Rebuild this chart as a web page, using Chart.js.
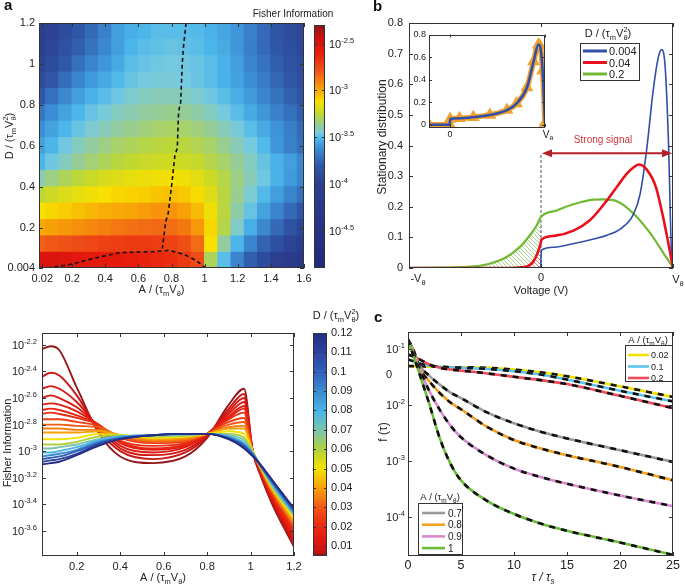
<!DOCTYPE html>
<html>
<head>
<meta charset="utf-8">
<script src="https://cdn.jsdelivr.net/npm/chart.js@4.4.1/dist/chart.umd.min.js"></script>
<style>
  body { margin: 0; width: 685px; height: 585px; background: #fff; position: relative; overflow: hidden;
         font-family: "Liberation Sans", Arial, sans-serif; }
  canvas { position: absolute; }
  .tag { position: absolute; font-weight: bold; font-size: 15px; line-height: 16px; color: #111; }
</style>
</head>
<body>
<canvas id="ca" width="320" height="300" style="left:0;top:0"></canvas>
<canvas id="cbA" width="120" height="290" style="left:240px;top:0"></canvas>
<canvas id="cb" width="345" height="300" style="left:340px;top:0"></canvas>
<canvas id="cin" width="150" height="115" style="left:405px;top:25px"></canvas>
<canvas id="cl" width="305" height="290" style="left:0;top:295px"></canvas>
<canvas id="cbD" width="75" height="270" style="left:300px;top:300px"></canvas>
<canvas id="cc" width="340" height="285" style="left:345px;top:300px"></canvas>
<div class="tag" style="left:4px;top:-3px">a</div>
<div class="tag" style="left:373px;top:-2px">b</div>
<div class="tag" style="left:374px;top:309px">c</div>
<script>
"use strict";

// ---- panel a: log10(Fisher information) read on a 0.08 x 0.08 grid (rows from D = 0.04 upward)
const aCols = [0, 0.08, 0.16, 0.24, 0.32, 0.40, 0.48, 0.56, 0.64, 0.72, 0.80, 0.88, 0.96, 1.04, 1.12, 1.20, 1.28, 1.36, 1.44, 1.52, 1.60];
const dRows = [0.04, 0.12, 0.20, 0.28, 0.36, 0.44, 0.52, 0.60, 0.68, 0.76, 0.84, 0.92, 1.00, 1.08, 1.16];
const fiGrid = [
  [-2.5, -2.5, -2.52, -2.55, -2.57, -2.58, -2.58, -2.6, -2.62, -2.64, -2.66, -2.7, -2.76, -3.3, -3.5, -3.65, -3.78, -3.9, -4.05, -4.2, -4.35],
  [-2.82, -2.8, -2.78, -2.76, -2.74, -2.72, -2.71, -2.7, -2.7, -2.71, -2.73, -2.77, -2.85, -3.12, -3.38, -3.52, -3.65, -3.76, -3.87, -3.97, -4.07],
  [-3.0, -2.98, -2.96, -2.94, -2.92, -2.9, -2.88, -2.86, -2.85, -2.84, -2.85, -2.88, -2.96, -3.1, -3.28, -3.43, -3.54, -3.64, -3.74, -3.84, -3.94],
  [-3.12, -3.1, -3.08, -3.05, -3.03, -3.01, -3.0, -2.99, -2.97, -2.95, -2.95, -2.98, -3.04, -3.14, -3.27, -3.39, -3.48, -3.57, -3.65, -3.74, -3.82],
  [-3.26, -3.22, -3.19, -3.16, -3.14, -3.12, -3.1, -3.09, -3.08, -3.06, -3.05, -3.07, -3.11, -3.18, -3.27, -3.36, -3.44, -3.51, -3.58, -3.65, -3.72],
  [-3.4, -3.35, -3.3, -3.26, -3.23, -3.2, -3.18, -3.16, -3.15, -3.14, -3.13, -3.14, -3.17, -3.22, -3.28, -3.35, -3.41, -3.47, -3.53, -3.59, -3.65],
  [-3.52, -3.47, -3.42, -3.37, -3.33, -3.3, -3.27, -3.25, -3.23, -3.22, -3.21, -3.22, -3.24, -3.28, -3.32, -3.37, -3.42, -3.48, -3.53, -3.58, -3.64],
  [-3.57, -3.52, -3.47, -3.42, -3.38, -3.35, -3.32, -3.3, -3.28, -3.27, -3.26, -3.27, -3.29, -3.32, -3.36, -3.41, -3.46, -3.51, -3.6, -3.66, -3.72],
  [-3.62, -3.57, -3.52, -3.48, -3.44, -3.41, -3.38, -3.36, -3.34, -3.32, -3.31, -3.32, -3.34, -3.37, -3.41, -3.45, -3.5, -3.55, -3.61, -3.67, -3.74],
  [-3.7, -3.62, -3.57, -3.52, -3.48, -3.45, -3.42, -3.4, -3.38, -3.37, -3.36, -3.37, -3.39, -3.42, -3.46, -3.5, -3.55, -3.6, -3.66, -3.72, -3.78],
  [-3.8, -3.72, -3.64, -3.58, -3.53, -3.5, -3.47, -3.44, -3.42, -3.41, -3.41, -3.42, -3.44, -3.47, -3.5, -3.54, -3.59, -3.65, -3.71, -3.77, -3.83],
  [-3.9, -3.82, -3.73, -3.65, -3.59, -3.55, -3.51, -3.48, -3.46, -3.45, -3.45, -3.46, -3.48, -3.5, -3.53, -3.57, -3.62, -3.68, -3.75, -3.81, -3.87],
  [-3.97, -3.9, -3.8, -3.72, -3.65, -3.6, -3.55, -3.5, -3.48, -3.47, -3.46, -3.47, -3.48, -3.5, -3.53, -3.58, -3.65, -3.71, -3.78, -3.85, -3.9],
  [-4.02, -3.95, -3.86, -3.78, -3.71, -3.64, -3.58, -3.52, -3.5, -3.49, -3.48, -3.49, -3.5, -3.52, -3.55, -3.6, -3.67, -3.74, -3.81, -3.88, -3.93],
  [-4.05, -3.98, -3.9, -3.82, -3.74, -3.66, -3.58, -3.54, -3.52, -3.5, -3.5, -3.5, -3.51, -3.53, -3.56, -3.6, -3.66, -3.74, -3.83, -3.9, -3.95]
];
const ridgeA = [0.888, 0.873, 0.865, 0.855, 0.843, 0.835, 0.82, 0.80, 0.78, 0.765, 0.745];
const ridgeD = [1.2, 1.09, 1.0, 0.81, 0.77, 0.59, 0.55, 0.40, 0.27, 0.23, 0.10];
const edgeA = [0.05, 0.18, 0.30, 0.39, 0.49, 0.69, 0.785, 0.878, 0.95, 1.0];
const edgeD = [0.004, 0.02, 0.045, 0.062, 0.079, 0.084, 0.09, 0.07, 0.04, 0.008];
const aTicksX = [0.02, 0.2, 0.4, 0.6, 0.8, 1, 1.2, 1.4, 1.6];
const aTicksY = [0.004, 0.2, 0.4, 0.6, 0.8, 1, 1.2];
const fiTicks = [-2.5, -3, -3.5, -4, -4.5];

// ---- panel b: stationary distributions (voltage in units of V_theta)
const bD = ['0.004', '0.04', '0.2'];
const bColors = ['#3050a8', '#e8101c', '#72b832'];
const blueV = [-1, -0.05, -0.002, 0.002, 0.1, 0.25, 0.4, 0.5, 0.6, 0.7, 0.75, 0.8, 0.85, 0.89, 0.915, 0.94, 0.965, 0.99, 1];
const blueP = [0, 0, 0.003, 0.058, 0.068, 0.08, 0.095, 0.107, 0.127, 0.175, 0.24, 0.385, 0.58, 0.69, 0.713, 0.66, 0.42, 0.03, 0];
const redV = [-1, -0.25, -0.15, -0.1, -0.06, -0.03, -0.003, 0.003, 0.1, 0.25, 0.37, 0.5, 0.58, 0.65, 0.7, 0.74, 0.8, 0.87, 0.93, 0.97, 1];
const redP = [0, 0, 0.002, 0.006, 0.02, 0.045, 0.08, 0.092, 0.105, 0.123, 0.156, 0.221, 0.268, 0.308, 0.328, 0.338, 0.322, 0.265, 0.156, 0.069, 0];
const greenV = [-1, -0.77, -0.51, -0.39, -0.26, -0.16, -0.084, -0.033, 0, 0.12, 0.245, 0.4, 0.47, 0.575, 0.7, 0.83, 0.93, 1];
const greenP = [0, 0.001, 0.005, 0.014, 0.036, 0.069, 0.107, 0.139, 0.167, 0.188, 0.208, 0.223, 0.224, 0.218, 0.178, 0.112, 0.047, 0.003];
const insetV = [-0.22, -0.003, 0.003, 0.1, 0.246, 0.42, 0.6, 0.7, 0.81, 0.88, 0.93, 0.947, 0.975, 1.0];
const insetP = [0, 0, 0.05, 0.058, 0.067, 0.087, 0.13, 0.188, 0.33, 0.56, 0.71, 0.70, 0.48, 0.015];
const ARROW_Y = 0.375;

// ---- bottom-left: log10(Fisher information) vs A for several D
const flA = [0.04, 0.08, 0.12, 0.2, 0.3, 0.4, 0.55, 0.7, 0.8, 0.9, 0.97, 1.01, 1.05, 1.1, 1.2];
const flD = [0.005, 0.0075, 0.01, 0.0125, 0.015, 0.0175, 0.02, 0.025, 0.03, 0.035, 0.04, 0.05, 0.06, 0.07, 0.08, 0.09, 0.1, 0.11, 0.12];
const flLog = [
  [-2.23, -2.21, -2.24, -2.52, -2.86, -3.04, -3.09, -3.04, -2.9, -2.65, -2.53, -3.0, -3.2, -3.4, -3.72],
  [-2.44, -2.41, -2.43, -2.58, -2.84, -3.0, -3.06, -3.01, -2.89, -2.68, -2.57, -3.0, -3.19, -3.38, -3.7],
  [-2.53, -2.51, -2.53, -2.63, -2.82, -2.98, -3.03, -2.99, -2.88, -2.7, -2.6, -3.0, -3.18, -3.37, -3.68],
  [-2.6, -2.58, -2.6, -2.67, -2.81, -2.96, -3.01, -2.97, -2.87, -2.72, -2.63, -3.0, -3.17, -3.36, -3.66],
  [-2.65, -2.64, -2.65, -2.7, -2.8, -2.94, -2.99, -2.96, -2.87, -2.74, -2.66, -3.0, -3.17, -3.35, -3.64],
  [-2.69, -2.68, -2.69, -2.73, -2.8, -2.93, -2.98, -2.95, -2.87, -2.75, -2.68, -3.0, -3.16, -3.34, -3.62],
  [-2.72, -2.71, -2.72, -2.75, -2.8, -2.92, -2.96, -2.94, -2.87, -2.76, -2.71, -3.0, -3.16, -3.33, -3.6],
  [-2.76, -2.76, -2.76, -2.78, -2.81, -2.9, -2.94, -2.93, -2.87, -2.78, -2.75, -3.0, -3.15, -3.32, -3.58],
  [-2.8, -2.8, -2.8, -2.81, -2.82, -2.89, -2.93, -2.92, -2.87, -2.8, -2.78, -3.0, -3.15, -3.31, -3.56],
  [-2.83, -2.83, -2.83, -2.84, -2.84, -2.88, -2.92, -2.91, -2.87, -2.82, -2.81, -3.0, -3.14, -3.3, -3.55],
  [-2.86, -2.86, -2.86, -2.86, -2.85, -2.88, -2.91, -2.9, -2.87, -2.83, -2.83, -3.0, -3.14, -3.29, -3.53],
  [-2.91, -2.91, -2.91, -2.9, -2.87, -2.88, -2.9, -2.89, -2.87, -2.85, -2.87, -3.0, -3.13, -3.28, -3.51],
  [-2.95, -2.95, -2.95, -2.93, -2.89, -2.88, -2.89, -2.88, -2.87, -2.87, -2.9, -3.01, -3.13, -3.27, -3.49],
  [-2.98, -2.98, -2.97, -2.95, -2.91, -2.89, -2.88, -2.88, -2.87, -2.88, -2.92, -3.01, -3.12, -3.26, -3.48],
  [-3.01, -3.01, -3.0, -2.97, -2.92, -2.89, -2.88, -2.87, -2.87, -2.89, -2.94, -3.02, -3.12, -3.25, -3.47],
  [-3.04, -3.03, -3.02, -2.99, -2.93, -2.9, -2.88, -2.87, -2.87, -2.9, -2.95, -3.02, -3.12, -3.24, -3.46],
  [-3.06, -3.05, -3.04, -3.0, -2.94, -2.9, -2.88, -2.87, -2.87, -2.9, -2.96, -3.03, -3.12, -3.23, -3.45],
  [-3.08, -3.07, -3.06, -3.02, -2.95, -2.91, -2.88, -2.87, -2.87, -2.91, -2.97, -3.03, -3.11, -3.22, -3.44],
  [-3.1, -3.09, -3.08, -3.03, -2.96, -2.91, -2.88, -2.87, -2.87, -2.91, -2.98, -3.04, -3.11, -3.22, -3.43]
];
const flTicksX = [0.2, 0.4, 0.6, 0.8, 1, 1.2];
const flExp = [-2.2, -2.4, -2.6, -2.8, -3, -3.2, -3.4, -3.6];
const dTicks = [0.01, 0.02, 0.03, 0.04, 0.05, 0.06, 0.07, 0.08, 0.09, 0.1, 0.11, 0.12];

// ---- panel c: log10 f(tau)
const cTau = [0, 0.5, 1, 2, 3, 4, 5, 7.5, 10, 12.5, 15, 20, 25];
const cA = ['0.02', '0.1', '0.2', '0.7', '0.8', '0.9', '1'];
const cColors = ['#f2e200', '#5cc4ec', '#f04a5a', '#9a9a9a', '#f4a020', '#d88ad0', '#6cbc3c'];
const cLog = [
  [-1.31, -1.31, -1.31, -1.32, -1.32, -1.33, -1.33, -1.34, -1.37, -1.42, -1.49, -1.67, -1.86],
  [-1.19, -1.22, -1.26, -1.3, -1.32, -1.33, -1.34, -1.36, -1.4, -1.46, -1.55, -1.75, -1.94],
  [-1.1, -1.14, -1.18, -1.28, -1.34, -1.37, -1.39, -1.44, -1.5, -1.56, -1.63, -1.84, -2.06],
  [-0.83, -1.01, -1.27, -1.48, -1.64, -1.78, -1.88, -2.14, -2.33, -2.48, -2.6, -2.81, -3.02],
  [-0.86, -1.06, -1.32, -1.58, -1.79, -1.96, -2.08, -2.4, -2.63, -2.78, -2.9, -3.11, -3.35],
  [-0.86, -1.1, -1.33, -1.75, -2.09, -2.37, -2.58, -2.91, -3.14, -3.29, -3.41, -3.62, -3.81],
  [-0.83, -1.12, -1.4, -1.98, -2.6, -3.05, -3.35, -3.72, -3.95, -4.12, -4.25, -4.46, -4.68]
];
const cTicksX = [0, 5, 10, 15, 20, 25];
const cExp = [-1, -2, -3, -4];

// ---- colour maps
const fiStops = [[-4.9, '#24287a'], [-4.0, '#2c4090'], [-3.8, '#3058a8'], [-3.62, '#3c8ed4'], [-3.52, '#4cb6ea'],
  [-3.46, '#76cae0'], [-3.38, '#92cca0'], [-3.25, '#c0d830'], [-3.12, '#f8e000'], [-2.98, '#f8a008'], [-2.8, '#f05818'],
  [-2.6, '#e81c0c'], [-2.45, '#d41010'], [-2.3, '#8a1414']];
const dStops = [[0.0048, '#901818'], [0.007, '#c81414'], [0.015, '#e41c10'], [0.025, '#ec3c12'], [0.03, '#f05a14'],
  [0.04, '#f6a008'], [0.05, '#f4e200'], [0.06, '#b0d040'], [0.07, '#78c4b0'], [0.08, '#48b4e6'],
  [0.09, '#3a8ad0'], [0.1, '#3060b8'], [0.11, '#2c44a0'], [0.12, '#262c80']];

const FAM = '"Liberation Sans", Arial, sans-serif';
Chart.defaults.font.family = FAM;
Chart.defaults.font.size = 11;
Chart.defaults.color = '#222';
Chart.defaults.animation = false;
Chart.defaults.responsive = false;
Chart.defaults.plugins.legend.display = false;
Chart.defaults.plugins.tooltip.enabled = false;
Chart.defaults.elements.point.radius = 0;

function hex(c) { return [1, 3, 5].map(i => parseInt(c.substr(i, 2), 16)); }
function mapColor(stops, v) {
  if (v <= stops[0][0]) return stops[0][1];
  for (let i = 1; i < stops.length; i++) {
    if (v <= stops[i][0]) {
      const t = (v - stops[i - 1][0]) / (stops[i][0] - stops[i - 1][0]);
      const p = hex(stops[i - 1][1]), q = hex(stops[i][1]);
      return 'rgb(' + p.map((c, k) => Math.round(c + (q[k] - c) * t)).join(',') + ')';
    }
  }
  return stops[stops.length - 1][1];
}
function pairs(xs, ys) { return xs.map((x, i) => ({ x: x, y: ys[i] })); }

// rich text: parts = [[text, kind]] kind '' normal, 'b' subscript, 'p' superscript, 'q' superscript stacked on previous
function rich(ctx, parts, x, y, size, align, angle, color, italic) {
  ctx.save();
  ctx.translate(x, y);
  if (angle) ctx.rotate(angle);
  const segs = parts.map(function (p) {
    const s = p[1] ? size * 0.68 : size;
    const font = (italic ? 'italic ' : '') + s + 'px ' + FAM;
    ctx.font = font;
    return { t: p[0], k: p[1], font: font, w: ctx.measureText(p[0]).width };
  });
  let total = 0, prevW = 0;
  segs.forEach(function (s) { total += s.k === 'q' ? Math.max(0, s.w - prevW) : s.w; prevW = s.w; });
  let cx = align === 'center' ? -total / 2 : (align === 'right' ? -total : 0);
  ctx.fillStyle = color || '#222';
  ctx.textAlign = 'left';
  ctx.textBaseline = 'alphabetic';
  prevW = 0;
  segs.forEach(function (s) {
    ctx.font = s.font;
    if (s.k === 'q') {
      ctx.fillText(s.t, cx - prevW, -size * 0.45);
      cx += Math.max(0, s.w - prevW);
    } else {
      const dy = s.k === 'b' ? size * 0.28 : (s.k === 'p' ? -size * 0.45 : 0);
      ctx.fillText(s.t, cx, dy);
      cx += s.w;
    }
    prevW = s.w;
  });
  ctx.restore();
}
const A_LABEL = [['A / (τ', ''], ['m', 'b'], ['V', ''], ['θ', 'b'], [')', '']];
const D_LABEL = [['D / (τ', ''], ['m', 'b'], ['V', ''], ['θ', 'b'], ['2', 'q'], [')', '']];
function pow(e) { return [['10', ''], [String(e), 'p']]; }

// frame and inward tick marks on every side
const boxTicks = {
  id: 'boxTicks',
  afterDatasetsDraw(chart) {
    const ctx = chart.ctx, a = chart.chartArea;
    const len = chart.options.tickLen || 4;
    ctx.save();
    ctx.strokeStyle = '#333';
    ctx.lineWidth = 1;
    ctx.strokeRect(Math.round(a.left) + 0.5, Math.round(a.top) + 0.5, Math.round(a.width) - 1, Math.round(a.height) - 1);
    ctx.beginPath();
    Object.values(chart.scales).forEach(function (s) {
      if (!s.options.display) return;
      s.ticks.forEach(function (t) {
        const p = Math.round(s.getPixelForValue(t.value)) + 0.5;
        if (s.isHorizontal()) {
          ctx.moveTo(p, a.bottom); ctx.lineTo(p, a.bottom - len);
          ctx.moveTo(p, a.top); ctx.lineTo(p, a.top + len);
        } else {
          ctx.moveTo(a.left, p); ctx.lineTo(a.left + len, p);
          ctx.moveTo(a.right, p); ctx.lineTo(a.right - len, p);
        }
      });
    });
    ctx.stroke();
    ctx.restore();
  }
};
function deco(fn) { return { id: 'deco', afterDraw: function (c) { fn(c.ctx, c, c.chartArea); } }; }

function fixY(w) { return function (s) { s.width = w; s.paddingTop = 0; s.paddingBottom = 0; }; }
function fixX(h) { return function (s) { s.height = h; s.paddingLeft = 0; s.paddingRight = 0; }; }
function scale(type, min, max, ticks, fit, tickOpts) {
  return {
    type: type, min: min, max: max, offset: false,
    grid: { display: false, drawTicks: false, tickLength: 0 }, border: { display: false },
    afterBuildTicks: function (s) { s.ticks = ticks.map(function (v) { return { value: v }; }); },
    afterFit: fit,
    ticks: Object.assign({ padding: 4, autoSkip: false, maxRotation: 0,
      callback: function (v) { return String(+(+v).toFixed(4)); } }, tickOpts || {})
  };
}
const blank = function () { return ''; };

function gradient(chart, stops, min, max) {
  if (!chart.chartArea) return stops[0][1];
  const y = chart.scales.y;
  const g = chart.ctx.createLinearGradient(0, y.getPixelForValue(min), 0, y.getPixelForValue(max));
  stops.forEach(function (s) { g.addColorStop(Math.min(1, Math.max(0, (s[0] - min) / (max - min))), s[1]); });
  return g;
}
function hatch(color) {
  const c = document.createElement('canvas');
  c.width = 4; c.height = 4;
  const g = c.getContext('2d');
  g.strokeStyle = color; g.lineWidth = 1;
  g.beginPath(); g.moveTo(0, 0); g.lineTo(4, 4); g.stroke();
  return g.createPattern(c, 'repeat');
}

// ================= panel a =================
const heatSets = dRows.map(function (d, r) {
  return {
    type: 'bar', order: 5, grouped: false, barPercentage: 1, categoryPercentage: 1,
    borderWidth: 0, inflateAmount: 0.6, clip: 0,
    data: aCols.map(function (a, c) { return { x: a, y: [d - 0.04, d + 0.04], v: fiGrid[r][c] }; }),
    backgroundColor: function (ctx) { return ctx.raw ? mapColor(fiStops, ctx.raw.v) : '#000'; }
  };
});
function dashed(xs, ys) {
  return { type: 'line', order: 0, data: pairs(xs, ys), borderColor: '#111', borderWidth: 1.6,
    borderDash: [4, 3], tension: 0 };
}
new Chart(document.getElementById('ca'), {
  type: 'bar',
  data: { datasets: [dashed(ridgeA, ridgeD), dashed(edgeA, edgeD)].concat(heatSets) },
  options: {
    layout: { padding: { left: 0, top: 23, right: 16, bottom: 0 } },
    scales: {
      x: scale('linear', 0, 1.6, aTicksX, fixX(32)),
      y: scale('linear', 0.004, 1.2, aTicksY, fixY(39))
    }
  },
  plugins: [boxTicks, deco(function (ctx, c, a) {
    rich(ctx, A_LABEL, (a.left + a.right) / 2 - 10, 293, 11, 'center');
    rich(ctx, D_LABEL, 13, 136, 11, 'center', -Math.PI / 2);
  })]
});

// colour bar for panel a
new Chart(document.getElementById('cbA'), {
  type: 'bar',
  data: { labels: ['c'], datasets: [{ data: [[-4.9, -2.3]], barPercentage: 1, categoryPercentage: 1, borderWidth: 0,
    backgroundColor: function (ctx) { return gradient(ctx.chart, fiStops, -4.9, -2.3); } }] },
  options: {
    tickLen: 3,
    layout: { padding: { left: 74, top: 25, right: 0, bottom: 22 } },
    scales: {
      x: { display: false },
      y: Object.assign(scale('linear', -4.9, -2.3, fiTicks, fixY(35), { callback: blank }), { position: 'right' })
    }
  },
  plugins: [boxTicks, deco(function (ctx, c, a) {
    fiTicks.forEach(function (e) {
      rich(ctx, pow(e), a.right + 4, c.scales.y.getPixelForValue(e) + 4, 11, 'left');
    });
    rich(ctx, [['Fisher Information', '']], 53, 17, 10, 'center');
  })]
});

// ================= panel b =================
const gHatch = hatch('#a6d68e'), rHatch = hatch('#f07070');
const greenLeft = pairs(greenV, greenP).filter(function (p) { return p.x <= 0; });
const redLeft = pairs(redV, redP).filter(function (p) { return p.x <= 0; });
function curve(data, color, width, order) {
  return { data: data, borderColor: color, borderWidth: width, cubicInterpolationMode: 'monotone', order: order };
}
new Chart(document.getElementById('cb'), {
  type: 'line',
  data: { datasets: [
    curve(pairs(redV, redP), bColors[1], 2.6, 1),
    curve(pairs(blueV, blueP), bColors[0], 1.6, 2),
    curve(pairs(greenV, greenP), bColors[2], 2.2, 3),
    { data: redLeft, borderWidth: 0, fill: 'origin', backgroundColor: rHatch, cubicInterpolationMode: 'monotone', order: 6 },
    { data: greenLeft, borderWidth: 0, fill: 'origin', backgroundColor: gHatch, cubicInterpolationMode: 'monotone', order: 7 },
    { data: [{ x: 0, y: 0 }, { x: 0, y: ARROW_Y }], borderColor: '#555', borderWidth: 1, borderDash: [3, 2], order: 4 }
  ] },
  options: {
    layout: { padding: { left: 0, top: 23, right: 12, bottom: 0 } },
    scales: {
      x: scale('linear', -1, 1, [-1, 0, 1], fixX(32), { callback: blank }),
      y: scale('linear', 0, 0.8, [0, 0.1, 0.2, 0.3, 0.4, 0.5, 0.6, 0.7, 0.8], fixY(69),
        { padding: 6, callback: function (v) { return v === 0 ? '0' : (+v).toFixed(1); } })
    }
  },
  plugins: [boxTicks, deco(function (ctx, c, a) {
    const x = c.scales.x, y = c.scales.y;
    rich(ctx, [['-V', ''], ['θ', 'b']], x.getPixelForValue(-1) + 9, a.bottom + 14, 11, 'center');
    rich(ctx, [['0', '']], x.getPixelForValue(0), a.bottom + 13, 11, 'center');
    rich(ctx, [['V', ''], ['θ', 'b']], x.getPixelForValue(1) + 5, a.bottom + 15, 11, 'center');
    rich(ctx, [['Voltage (V)', '']], x.getPixelForValue(0), a.bottom + 26, 11, 'center');
    rich(ctx, [['Stationary distribution', '']], 46, 137, 12, 'center', -Math.PI / 2);
    // double arrow "Strong signal"
    const x0 = x.getPixelForValue(0), x1 = x.getPixelForValue(1), yy = y.getPixelForValue(ARROW_Y);
    ctx.save();
    ctx.strokeStyle = '#b3202a'; ctx.fillStyle = '#b3202a'; ctx.lineWidth = 2;
    ctx.beginPath(); ctx.moveTo(x0 + 8, yy); ctx.lineTo(x1 - 8, yy); ctx.stroke();
    ctx.beginPath(); ctx.moveTo(x0 + 1, yy); ctx.lineTo(x0 + 11, yy - 4); ctx.lineTo(x0 + 11, yy + 4); ctx.fill();
    ctx.beginPath(); ctx.moveTo(x1 - 1, yy); ctx.lineTo(x1 - 11, yy - 4); ctx.lineTo(x1 - 11, yy + 4); ctx.fill();
    ctx.restore();
    rich(ctx, [['Strong signal', '']], x.getPixelForValue(0.47), yy - 10, 10, 'center', 0, '#d03434');
    // legend
    rich(ctx, D_LABEL, 268, 37, 11, 'center');
    ctx.save();
    ctx.fillStyle = '#fff'; ctx.fillRect(240, 43, 59, 37);
    ctx.strokeStyle = '#333'; ctx.lineWidth = 1; ctx.strokeRect(240.5, 43.5, 59, 37);
    bD.forEach(function (lab, i) {
      const ly = 51 + i * 11.5;
      ctx.strokeStyle = bColors[i]; ctx.lineWidth = 3;
      ctx.beginPath(); ctx.moveTo(243, ly); ctx.lineTo(267, ly); ctx.stroke();
      rich(ctx, [[lab, '']], 269, ly + 4, 11, 'left');
    });
    ctx.restore();
  })]
});

// inset of panel b
new Chart(document.getElementById('cin'), {
  type: 'line',
  data: { datasets: [
    { data: pairs(insetV, insetP), borderColor: '#3050a8', borderWidth: 2.6, cubicInterpolationMode: 'monotone', order: 0 },
    { data: pairs(insetV, insetP), borderColor: '#f0a030', borderWidth: 5.5, cubicInterpolationMode: 'monotone', order: 1,
      pointRadius: 2, pointStyle: 'triangle', pointBackgroundColor: '#f0a030', pointBorderColor: '#f0a030' }
  ] },
  options: {
    tickLen: 3,
    layout: { padding: { left: 0, top: 8, right: 10, bottom: 0 } },
    scales: {
      x: scale('linear', -0.22, 1.0, [0, 1], fixX(13), { callback: blank }),
      y: scale('linear', -0.02, 0.8, [0, 0.2, 0.4, 0.6, 0.8], fixY(24),
        { padding: 3, font: { size: 9 }, callback: function (v) { return v === 0 ? '0' : (+v).toFixed(1); } })
    }
  },
  plugins: [{ id: 'bg', beforeDatasetsDraw: function (c) {
      const a = c.chartArea; c.ctx.save(); c.ctx.fillStyle = '#fff';
      c.ctx.fillRect(a.left, a.top, a.width, a.height); c.ctx.restore();
    } }, boxTicks, deco(function (ctx, c, a) {
    const x = c.scales.x;
    rich(ctx, [['0', '']], x.getPixelForValue(0), a.bottom + 10, 9, 'center');
    rich(ctx, [['V', ''], ['θ', 'b']], x.getPixelForValue(1) + 3, a.bottom + 11, 10, 'center');
  })]
});

// ================= bottom-left panel =================
const flSets = flD.map(function (d, i) {
  return { data: flA.map(function (a, j) { return { x: a, y: Math.pow(10, flLog[i][j]) }; }),
    borderColor: mapColor(dStops, d), borderWidth: 1.9, cubicInterpolationMode: 'monotone', order: 100 - i };
});
new Chart(document.getElementById('cl'), {
  type: 'line',
  data: { datasets: flSets },
  options: {
    layout: { padding: { left: 0, top: 38, right: 11, bottom: 0 } },
    scales: {
      x: scale('linear', 0.04, 1.2, flTicksX, fixX(29)),
      y: scale('logarithmic', Math.pow(10, -3.79), Math.pow(10, -2.11), flExp.map(function (e) { return Math.pow(10, e); }),
        fixY(42), { callback: blank })
    }
  },
  plugins: [boxTicks, deco(function (ctx, c, a) {
    flExp.forEach(function (e) {
      rich(ctx, pow(e), a.left - 5, c.scales.y.getPixelForValue(Math.pow(10, e)) + 4, 11, 'right');
    });
    rich(ctx, A_LABEL, 163, 286, 11, 'center');
    rich(ctx, [['Fisher Information', '']], 11, 148, 11, 'center', -Math.PI / 2);
  })]
});

// colour bar for D
new Chart(document.getElementById('cbD'), {
  type: 'bar',
  data: { labels: ['c'], datasets: [{ data: [[0.0048, 0.12]], barPercentage: 1, categoryPercentage: 1, borderWidth: 0,
    backgroundColor: function (ctx) { return gradient(ctx.chart, dStops, 0.0048, 0.12); } }] },
  options: {
    tickLen: 3,
    layout: { padding: { left: 13, top: 33, right: 15, bottom: 14 } },
    scales: {
      x: { display: false },
      y: Object.assign(scale('linear', 0.0048, 0.12, dTicks, fixY(33)), { position: 'right' })
    }
  },
  plugins: [boxTicks, deco(function (ctx) {
    rich(ctx, D_LABEL, 36, 19, 11, 'center');
  })]
});

// ================= panel c =================
const cSets = [];
cA.forEach(function (A, i) {
  const pts = cTau.map(function (t, j) { return { x: t, y: Math.pow(10, cLog[i][j]) }; });
  cSets.push({ data: pts, borderColor: cColors[i], borderWidth: 2.6, cubicInterpolationMode: 'monotone', order: 40 - 2 * i });
  cSets.push({ data: pts, borderColor: '#111', borderWidth: 2.6, borderDash: [6, 6], cubicInterpolationMode: 'monotone', order: 39 - 2 * i });
});
new Chart(document.getElementById('cc'), {
  type: 'line',
  data: { datasets: cSets },
  options: {
    layout: { padding: { left: 0, top: 32, right: 12, bottom: 0 } },
    scales: {
      x: scale('linear', 0, 25, cTicksX, fixX(29), { font: { size: 12.5 }, padding: 2 }),
      y: scale('logarithmic', Math.pow(10, -4.7), Math.pow(10, -0.7), cExp.map(function (e) { return Math.pow(10, e); }),
        fixY(63), { callback: blank })
    }
  },
  plugins: [boxTicks, deco(function (ctx, c, a) {
    const y = c.scales.y;
    cExp.forEach(function (e) {
      rich(ctx, pow(e), a.left - 3, y.getPixelForValue(Math.pow(10, e)) + 4, 11, 'right');
    });
    rich(ctx, [['0', '']], 44, y.getPixelForValue(Math.pow(10, -1.45)) + 4, 11, 'center');
    rich(ctx, [['τ / τ', ''], ['s', 'b']], 198, 281, 12, 'center', 0, '#222', true);
    rich(ctx, [['f (τ)', '']], 42, 132, 12, 'center', -Math.PI / 2);
    ctx.save();
    // upper legend
    rich(ctx, A_LABEL, 303, 43, 9.5, 'center');
    ctx.fillStyle = '#fff'; ctx.fillRect(280, 45, 48, 37);
    ctx.strokeStyle = '#333'; ctx.lineWidth = 1; ctx.strokeRect(280.5, 45.5, 47, 36);
    [0, 1, 2].forEach(function (i) {
      const ly = 55 + i * 11.5;
      ctx.strokeStyle = cColors[i]; ctx.lineWidth = 2.6;
      ctx.beginPath(); ctx.moveTo(283, ly); ctx.lineTo(304, ly); ctx.stroke();
      rich(ctx, [[cA[i], '']], 306, ly + 3, 9, 'left');
    });
    // lower legend
    rich(ctx, A_LABEL, 95, 200, 9.5, 'center');
    ctx.fillStyle = '#fff'; ctx.fillRect(73, 203, 44, 51);
    ctx.strokeStyle = '#333'; ctx.lineWidth = 1; ctx.strokeRect(73.5, 203.5, 44, 51);
    [3, 4, 5, 6].forEach(function (i, k) {
      const ly = 213 + k * 11.7;
      ctx.strokeStyle = cColors[i]; ctx.lineWidth = 2.6;
      ctx.beginPath(); ctx.moveTo(77, ly); ctx.lineTo(100, ly); ctx.stroke();
      rich(ctx, [[cA[i], '']], 103, ly + 3.5, 10, 'left');
    });
    ctx.restore();
  })]
});
</script>
</body>
</html>
